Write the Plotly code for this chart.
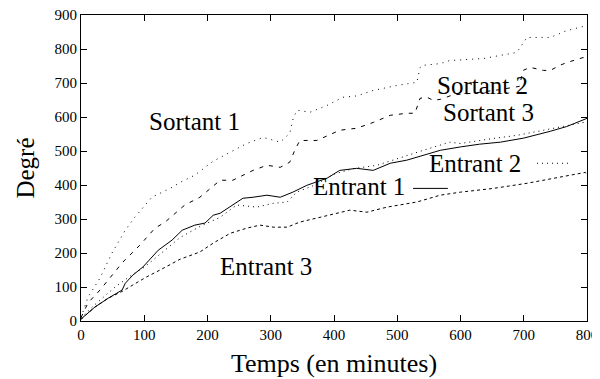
import plotly.graph_objects as go

# ---- data ----
s1_x = [0, 11, 30, 49, 70, 85, 112, 144, 157, 180, 209, 235, 262, 288, 315, 330, 336, 342, 362, 389, 414, 436, 462, 500, 531, 536, 541, 568, 583, 636, 689, 700, 705, 742, 768, 800]
s1_y = [10, 70, 126, 200, 267, 305, 364, 393, 408, 429, 470, 495, 522, 540, 526, 552, 600, 620, 614, 634, 658, 662, 678, 693, 702, 745, 752, 757, 766, 772, 790, 820, 834, 834, 854, 869]

s2_x = [0, 11, 30, 54, 66, 93, 117, 133, 164, 188, 209, 220, 240, 272, 294, 315, 330, 338, 346, 373, 409, 436, 462, 489, 515, 528, 536, 547, 557, 568, 588, 620, 660, 693, 699, 710, 731, 742, 757, 768, 794, 800]
s2_y = [10, 53, 91, 144, 173, 223, 273, 291, 341, 364, 395, 414, 414, 443, 458, 452, 467, 502, 531, 531, 561, 567, 584, 605, 611, 611, 655, 658, 649, 652, 665, 670, 680, 690, 737, 746, 737, 737, 752, 760, 775, 770]

e1_x = [0, 2, 22, 43, 65, 70, 82, 98, 122, 144, 160, 180, 196, 209, 220, 240, 256, 272, 294, 315, 335, 357, 389, 409, 436, 462, 489, 515, 541, 568, 600, 630, 663, 700, 742, 768, 800]
e1_y = [5, 9, 41, 67, 91, 111, 135, 159, 208, 238, 267, 282, 288, 311, 317, 341, 361, 364, 370, 364, 379, 399, 420, 443, 449, 443, 464, 473, 487, 502, 512, 520, 526, 538, 558, 572, 596]

e2_x = [0, 20, 54, 80, 100, 130, 157, 190, 220, 246, 278, 304, 326, 341, 370, 400, 430, 468, 500, 541, 583, 600, 652, 689, 731, 757, 794, 800]
e2_y = [8, 45, 100, 135, 158, 205, 246, 280, 305, 341, 335, 346, 350, 379, 400, 432, 448, 458, 478, 502, 526, 522, 537, 546, 561, 570, 584, 586]

e3_x = [0, 22, 43, 65, 82, 104, 125, 157, 188, 209, 236, 262, 283, 304, 326, 346, 378, 425, 452, 484, 531, 568, 600, 652, 705, 746, 784, 797, 800]
e3_y = [5, 41, 67, 87, 106, 130, 150, 182, 203, 229, 258, 273, 282, 276, 276, 291, 305, 326, 320, 335, 350, 370, 379, 390, 405, 420, 434, 437, 432]

x_ticks = [0, 100, 200, 300, 400, 500, 600, 700, 800]
y_ticks = [0, 100, 200, 300, 400, 500, 600, 700, 800, 900]

label_text = ["Sortant 1", "Sortant 2", "Sortant 3", "Entrant 2", "Entrant 1", "Entrant 3"]
label_x = [179, 634, 644, 623, 440, 292]
label_y = [587, 693, 614, 464, 396, 161]

SERIF = "Liberation Serif"
BIG = 25

fig = go.Figure()
fig.add_trace(go.Scatter(x=s1_x, y=s1_y, mode="lines", name="Sortant 1",
                         line=dict(color="black", width=1, dash="1px,5px")))
fig.add_trace(go.Scatter(x=s2_x, y=s2_y, mode="lines", name="Sortant 2",
                         line=dict(color="black", width=1, dash="4px,6px")))
fig.add_trace(go.Scatter(x=e1_x, y=e1_y, mode="lines", name="Entrant 1",
                         line=dict(color="black", width=1)))
fig.add_trace(go.Scatter(x=e2_x, y=e2_y, mode="lines", name="Entrant 2",
                         line=dict(color="black", width=1, dash="1px,4px")))
fig.add_trace(go.Scatter(x=e3_x, y=e3_y, mode="lines", name="Entrant 3",
                         line=dict(color="black", width=1, dash="3px,3px")))

for txt, lx, ly in zip(label_text, label_x, label_y):
    fig.add_annotation(x=lx, y=ly, text=txt, showarrow=False,
                       font=dict(family=SERIF, size=BIG, color="black"),
                       xanchor="center", yanchor="middle")

# key samples
fig.add_shape(type="line", x0=525, x1=580, y0=390, y1=390,
              line=dict(color="black", width=1))
fig.add_shape(type="line", x0=721, x1=770, y0=464, y1=464,
              line=dict(color="black", width=1, dash="1px,4px"))

axis_common = dict(showline=True, linecolor="black", linewidth=1, mirror="ticks",
                   ticks="inside", ticklen=6, tickcolor="black", showgrid=False,
                   zeroline=False, automargin=False, ticklabeloverflow="allow",
                   tickfont=dict(family=SERIF, size=15, color="black"))

# the page body adds an 8px offset; margins compensate so the plot area lands
# at x 81..587 and y 14.5..321 in the window
fig.update_layout(
    width=600, height=379,
    margin=dict(l=73, r=21, t=6.5, b=66),
    paper_bgcolor="white", plot_bgcolor="white",
    showlegend=False,
    xaxis=dict(range=[0, 800], tickvals=x_ticks,
               title=dict(text="Temps (en minutes)", font=dict(family=SERIF, size=26, color="black"), standoff=11),
               **axis_common),
    yaxis=dict(range=[0, 900], tickvals=y_ticks,
               title=dict(text="Degré", font=dict(family=SERIF, size=BIG, color="black"), standoff=12),
               **axis_common),
)

fig.write_html("out.html")
